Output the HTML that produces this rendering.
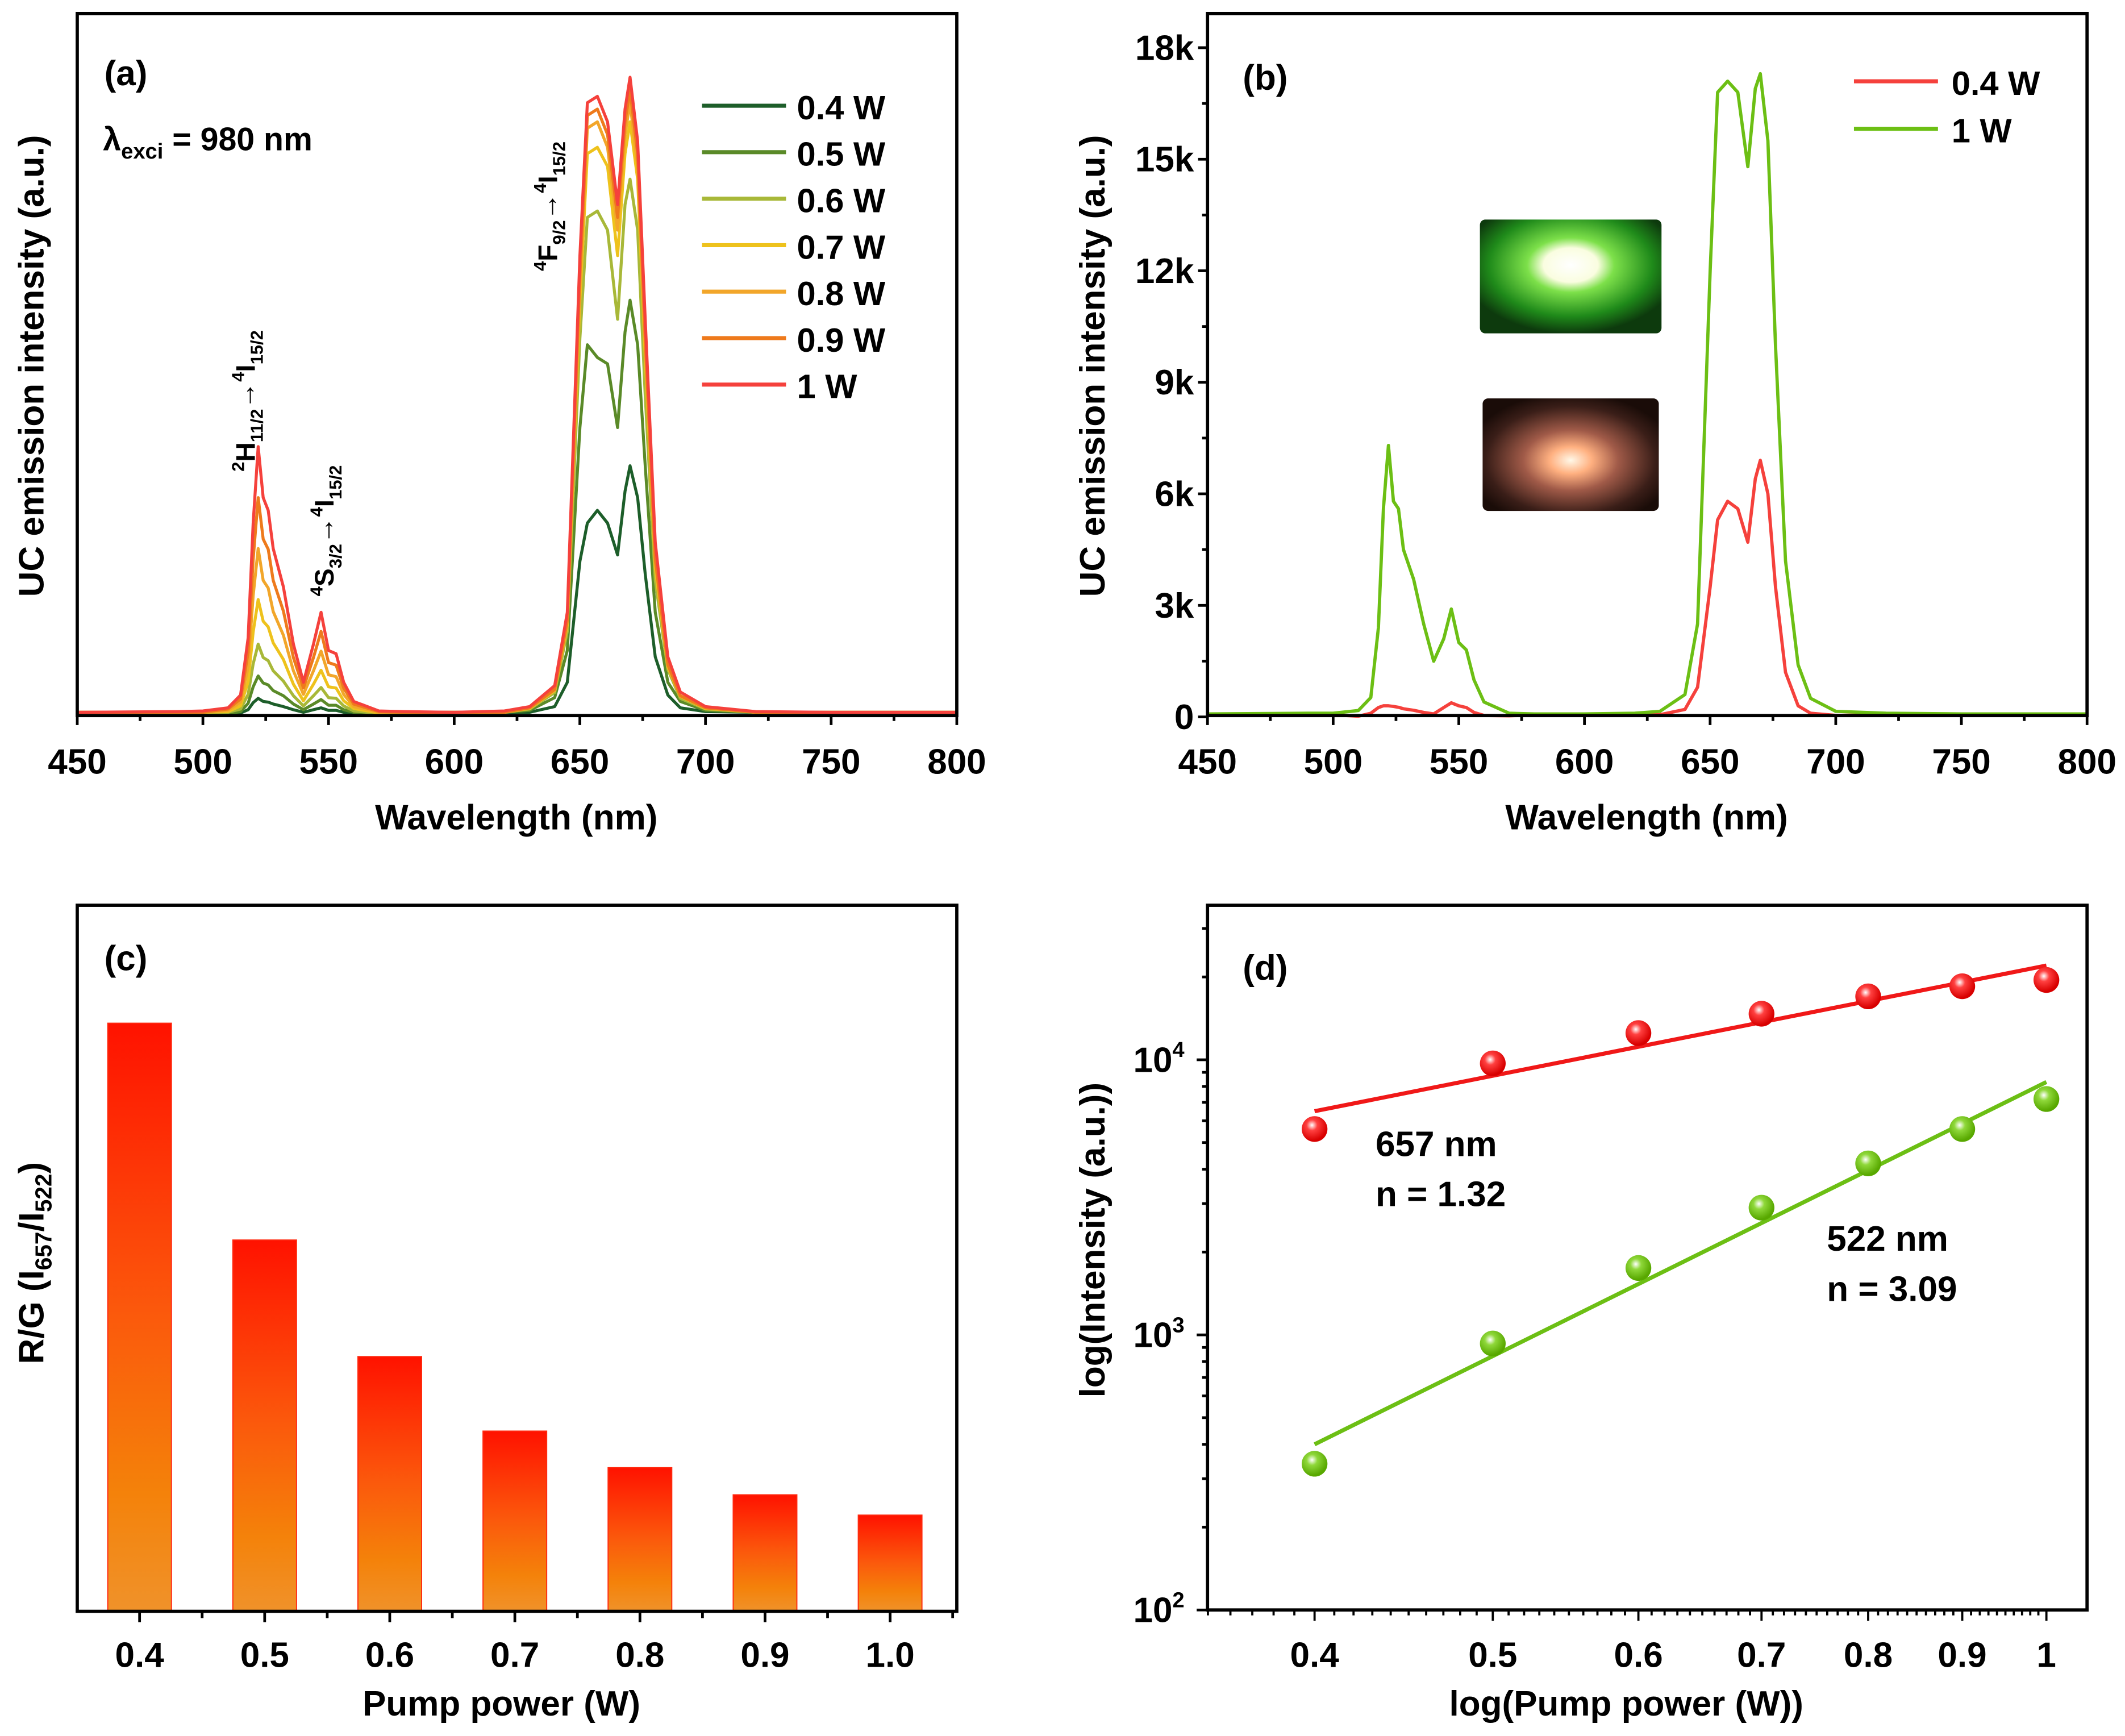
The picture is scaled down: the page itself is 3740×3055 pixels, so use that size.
<!DOCTYPE html>
<html><head><meta charset="utf-8"><style>
html,body{margin:0;padding:0;background:#fff}
svg{display:block}
text{font-family:"Liberation Sans",sans-serif;font-weight:bold;fill:#000}
</style></head><body>
<svg id="fig" xmlns="http://www.w3.org/2000/svg" width="3740" height="3055" viewBox="0 0 1568 1281" preserveAspectRatio="none">
<defs>
<linearGradient id="barGrad" x1="0" y1="0" x2="0" y2="1"><stop offset="0" stop-color="#ff1200"/><stop offset="0.5" stop-color="#fb5a0c"/><stop offset="0.8" stop-color="#f4820a"/><stop offset="1" stop-color="#f0922a"/></linearGradient>
<radialGradient id="gPhoto" cx="0.5" cy="0.4" r="0.6"><stop offset="0" stop-color="#ffffff"/><stop offset="0.25" stop-color="#fafde0"/><stop offset="0.4" stop-color="#7de04a"/><stop offset="0.75" stop-color="#1f8a1a"/><stop offset="1" stop-color="#0d3a0d"/></radialGradient>
<radialGradient id="rPhoto" cx="0.5" cy="0.55" r="0.6"><stop offset="0" stop-color="#fff8e8"/><stop offset="0.2" stop-color="#ffb080"/><stop offset="0.45" stop-color="#a05a48"/><stop offset="0.8" stop-color="#3a1e18"/><stop offset="1" stop-color="#1a0c08"/></radialGradient>
<radialGradient id="ptR" cx="0.4" cy="0.35" r="0.6"><stop offset="0" stop-color="#fff"/><stop offset="0.35" stop-color="#ff4040"/><stop offset="1" stop-color="#d80000"/></radialGradient>
<radialGradient id="ptG" cx="0.4" cy="0.35" r="0.6"><stop offset="0" stop-color="#fff"/><stop offset="0.35" stop-color="#8fd83a"/><stop offset="1" stop-color="#58a800"/></radialGradient>
</defs>
<g id="pa"></g>
<g id="pb"></g>
<g id="pc"></g>
<g id="pd"></g>
</svg>
<script>
// ---------- Data ----------
const wl = [450,490,500,510,515,518,520,522,524,526,528,532,536,540,544,547,550,553,556,560,570,580,600,620,630,640,645,650,653,657,661,665,668,670,673,676,680,685,690,700,720,750,800];
const powersA = ["0.4 W","0.5 W","0.6 W","0.7 W","0.8 W","0.9 W","1 W"];
const colorsA = ["#1d5e2a","#5a8a28","#a8b838","#eec21c","#f2a62a","#ee7a1c","#f5413c"];
const sA04 = [0.3,0.3,0.3,0.1,0.2,0.7,1.8,2.5,2,1.9,1.6,1.2,0.7,0.3,0.7,1,0.6,0.6,0.3,0.1,0,0.3,0.3,0.3,0.3,1.2,5,24,30,32,30,25,35,39,34,22,9,3,1,0.4,0.3,0.3,0.3];
const sA05 = [0.3,0.3,0.3,0.1,0.4,1.7,4.3,6,4.9,4.6,3.7,2.9,1.6,0.7,1.6,2.3,1.4,1.4,0.7,0.3,0.1,0.3,0.3,0.3,0.6,2.6,10,45,58,56,55,45,60,65,58,39,16,5,2,0.6,0.3,0.3,0.3];
const sA06 = [0.3,0.3,0.3,0.3,0.8,3.1,7.9,11,8.9,8.4,6.8,5.2,2.9,1.3,2.9,4.2,2.6,2.5,1.3,0.5,0.1,0.3,0.3,0.3,0.8,3.4,13,59,78,79,76,62,80,84,76,50,21,7,2.5,0.8,0.3,0.3,0.3];
const sA07 = [0.3,0.3,0.3,0.4,1.3,5.1,12.9,18,14.6,13.7,11.2,8.6,4.7,2.1,4.7,6.9,4.3,4.1,2.1,0.9,0.2,0.3,0.3,0.3,0.9,3.7,14,65,88,89,86,72,88,93,84,56,23,7.4,2.8,0.9,0.3,0.3,0.3];
const sA08 = [0.3,0.3,0.3,0.6,1.9,7.4,18.6,26,21,19.8,16.1,12.4,6.8,3.1,6.8,9.9,6.2,5.9,3.1,1.2,0.3,0.3,0.3,0.3,1,3.8,14.4,67,92,93,89,76,91,96,86,58,24,7.7,2.9,1,0.3,0.3,0.3];
const sA09 = [0.3,0.3,0.3,0.8,2.4,9.7,24.3,34,27.5,25.9,21,16.2,8.9,4.1,8.9,13,8.1,7.7,4.1,1.6,0.4,0.3,0.3,0.3,1,3.9,14.7,69,94,95,91,78,93,98,88,59,24.5,7.8,2.9,1,0.3,0.3,0.3];
const sA10 = [0.3,0.4,0.5,1,3,12,30,42,34,32,26,20,11,5,11,16,10,9.5,5,2,0.5,0.4,0.3,0.5,1.2,4.5,16,72,96,97,93,80,95,100,90,62,27,9,3.5,1.2,0.4,0.3,0.3];
const seriesA = [sA04,sA05,sA06,sA07,sA08,sA09,sA10];

const powersB = ["0.4 W","1 W"];
const colorsB = ["#f5413c","#6cbf14"];
const sB04 = [60,60,60,20,100,250,300,300,280,260,220,180,120,80,250,380,300,250,120,40,30,60,60,60,60,200,800,3500,5300,5800,5600,4700,6400,6900,6000,3500,1200,300,100,40,60,60,60];
const sB10 = [80,100,100,170,520,2400,5600,7300,5800,5600,4500,3700,2500,1500,2100,2900,2000,1800,1000,400,100,80,80,100,150,600,2500,12000,16800,17100,16800,14800,16900,17300,15500,10000,4200,1400,500,150,100,80,80];
const seriesB = [sB04,sB10];
const ticksB = [0,3000,6000,9000,12000,15000,18000];
const tickLabelsB = ["0","3k","6k","9k","12k","15k","18k"];
const xTicks = [450,500,550,600,650,700,750,800];

const catsC = ["0.4","0.5","0.6","0.7","0.8","0.9","1.0"];
const ratiosC = [4.34,2.74,1.88,1.33,1.06,0.86,0.71];

const powersD = [0.4,0.5,0.6,0.7,0.8,0.9,1];
const red657 = [5600,9700,12500,14700,17000,18500,19500];
const green522 = [340,930,1750,2900,4200,5600,7200];
const fitRed = [6500,22000];
const fitGreen = [400,8300];
const fitPowers = [0.4,1];
const xLabelsD = ["0.4","0.5","0.6","0.7","0.8","0.9","1"];

// ---------- helpers ----------
const NS="http://www.w3.org/2000/svg";
const FS=26;
function mk(parent,tag,attrs,txt){const e=document.createElementNS(NS,tag);for(const k in attrs)e.setAttribute(k,attrs[k]);if(txt!==undefined)e.textContent=txt;parent.appendChild(e);return e;}
function frame(g,x0,y0,x1,y1){const r=mk(g,'rect',{x:x0,y:y0,width:x1-x0,height:y1-y0,fill:'none',stroke:'#000','stroke-width':2.4});

}

// ---------- Panel A ----------
(function(){
const g=document.getElementById('pa');
const X0=57,X1=706,Y0=10,Y1=528;
const xs=v=>X0+(v-450)/(800-450)*(X1-X0);
const ys=v=>527-v*4.7;
seriesA.forEach((s,i)=>{
 const pts=s.map((v,j)=>xs(wl[j]).toFixed(1)+','+ys(v).toFixed(1)).join(' ');
 const p=mk(g,'polyline',{points:pts,fill:'none',stroke:colorsA[i],'stroke-width':2.2,'stroke-linejoin':'round'});
 
 
});
frame(g,X0,Y0,X1,Y1);
for(let v=450;v<=800;v+=25){const major=v%50===0;mk(g,'line',{x1:xs(v),x2:xs(v),y1:Y1,y2:Y1+(major?7:4),stroke:'#000','stroke-width':2});}
xTicks.forEach(v=>{const t=mk(g,'text',{x:xs(v),y:571,'text-anchor':'middle','font-size':FS},String(v));
 
 });
let t=mk(g,'text',{x:381,y:612,'text-anchor':'middle','font-size':FS},'Wavelength (nm)');

t=mk(g,'text',{x:0,y:0,'text-anchor':'middle','font-size':FS,transform:'translate(32,270) rotate(-90)'},'UC emission intensity (a.u.)');

t=mk(g,'text',{x:77,y:63,'font-size':FS},'(a)');

t=mk(g,'text',{x:76,y:111,'font-size':24});t.innerHTML='λ<tspan font-size="16" dy="6">exci</tspan><tspan dy="-6"> = 980 nm</tspan>';

powersA.forEach((p,i)=>{const y=78+i*34.3;
 const l=mk(g,'line',{x1:518,x2:580,y1:y,y2:y,stroke:colorsA[i],'stroke-width':3});
 
 const tt=mk(g,'text',{x:588,y:y+10,'font-size':25},p);
 });
t=mk(g,'text',{x:0,y:0,'font-size':20,transform:'translate(188,348) rotate(-90)'});
t.innerHTML='<tspan font-size="13" dy="-8">2</tspan><tspan dy="8">H</tspan><tspan font-size="13" dy="6">11/2</tspan><tspan dy="-6">→</tspan><tspan font-size="13" dy="-8">4</tspan><tspan dy="8">I</tspan><tspan font-size="13" dy="6">15/2</tspan>';

t=mk(g,'text',{x:0,y:0,'font-size':20,transform:'translate(246,440) rotate(-90)'});
t.innerHTML='<tspan font-size="13" dy="-8">4</tspan><tspan dy="8">S</tspan><tspan font-size="13" dy="6">3/2</tspan><tspan dy="-6">→</tspan><tspan font-size="13" dy="-8">4</tspan><tspan dy="8">I</tspan><tspan font-size="13" dy="6">15/2</tspan>';

t=mk(g,'text',{x:0,y:0,'font-size':20,transform:'translate(411,200) rotate(-90)'});
t.innerHTML='<tspan font-size="13" dy="-8">4</tspan><tspan dy="8">F</tspan><tspan font-size="13" dy="6">9/2</tspan><tspan dy="-6">→</tspan><tspan font-size="13" dy="-8">4</tspan><tspan dy="8">I</tspan><tspan font-size="13" dy="6">15/2</tspan>';

})();

// ---------- Panel B ----------
(function(){
const g=document.getElementById('pb');
const X0=891,X1=1540,Y0=10,Y1=528;
const xs=v=>X0+(v-450)/(800-450)*(X1-X0);
const ys=v=>529-v/3000*82.3;
const ph1=mk(g,'rect',{x:1092,y:162,width:134,height:84,fill:'url(#gPhoto)',rx:4});

const ph2=mk(g,'rect',{x:1094,y:294,width:130,height:83,fill:'url(#rPhoto)',rx:4});

seriesB.forEach((s,i)=>{
 const pts=s.map((v,j)=>xs(wl[j]).toFixed(1)+','+ys(v).toFixed(1)).join(' ');
 const p=mk(g,'polyline',{points:pts,fill:'none',stroke:colorsB[i],'stroke-width':2.4,'stroke-linejoin':'round'});
 
 
});
frame(g,X0,Y0,X1,Y1);
for(let v=450;v<=800;v+=25){const major=v%50===0;mk(g,'line',{x1:xs(v),x2:xs(v),y1:Y1,y2:Y1+(major?7:4),stroke:'#000','stroke-width':2});}
for(let v=0;v<=19500;v+=1500){const major=v%3000===0;mk(g,'line',{x1:X0,x2:X0-(major?7:4),y1:ys(v),y2:ys(v),stroke:'#000','stroke-width':2});}
xTicks.forEach(v=>{const t=mk(g,'text',{x:xs(v),y:571,'text-anchor':'middle','font-size':FS},String(v));
 });
ticksB.forEach((v,i)=>{const t=mk(g,'text',{x:X0-10,y:ys(v)+9,'text-anchor':'end','font-size':FS},tickLabelsB[i]);
 });
let t=mk(g,'text',{x:1215,y:612,'text-anchor':'middle','font-size':FS},'Wavelength (nm)');

t=mk(g,'text',{x:0,y:0,'text-anchor':'middle','font-size':FS,transform:'translate(815,270) rotate(-90)'},'UC emission intensity (a.u.)');

t=mk(g,'text',{x:917,y:66,'font-size':FS},'(b)');

powersB.forEach((p,i)=>{const y=60+i*35;
 const l=mk(g,'line',{x1:1368,x2:1430,y1:y,y2:y,stroke:colorsB[i],'stroke-width':3});
 
 const tt=mk(g,'text',{x:1440,y:y+10,'font-size':25},p);
 });
})();

// ---------- Panel C ----------
(function(){
const g=document.getElementById('pc');
const X0=57,X1=706,Y0=668,Y1=1189;
const xs=i=>103+i*92.3;
const ys=v=>Y1-v*100;
ratiosC.forEach((v,i)=>{
 const b=mk(g,'rect',{x:xs(i)-23.5,y:ys(v),width:47,height:Y1-ys(v),fill:'url(#barGrad)',stroke:'#ff2a10','stroke-width':0.8});
 
 
});
frame(g,X0,Y0,X1,Y1);
catsC.forEach((c,i)=>{mk(g,'line',{x1:xs(i),x2:xs(i),y1:Y1,y2:Y1+8,stroke:'#000','stroke-width':2});
 mk(g,'line',{x1:xs(i)+46.15,x2:xs(i)+46.15,y1:Y1,y2:Y1+5,stroke:'#000','stroke-width':2});
 const t=mk(g,'text',{x:xs(i),y:1230,'text-anchor':'middle','font-size':FS},c);
 });
let t=mk(g,'text',{x:370,y:1266,'text-anchor':'middle','font-size':FS},'Pump power (W)');

t=mk(g,'text',{x:0,y:0,'text-anchor':'middle','font-size':FS,transform:'translate(32,932) rotate(-90)'});
t.innerHTML='R/G (I<tspan font-size="17" dy="6">657</tspan><tspan dy="-6">/I</tspan><tspan font-size="17" dy="6">522</tspan><tspan dy="-6">)</tspan>';

t=mk(g,'text',{x:77,y:716,'font-size':FS},'(c)');

})();

// ---------- Panel D ----------
(function(){
const g=document.getElementById('pd');
const X0=891,X1=1540,Y0=668,Y1=1188;
const xs=p=>1510+Math.log10(p)*1357;
const ys=v=>Y1-(Math.log10(v)-2)*203;
const fr=fitPowers.map((p,i)=>xs(p)+','+ys(fitRed[i])).join(' ');
let l=mk(g,'polyline',{points:fr,fill:'none',stroke:'#f01818','stroke-width':3});

const fg=fitPowers.map((p,i)=>xs(p)+','+ys(fitGreen[i])).join(' ');
l=mk(g,'polyline',{points:fg,fill:'none',stroke:'#6cbf14','stroke-width':3});

powersD.forEach((p,i)=>{
 const c=mk(g,'circle',{cx:xs(p),cy:ys(red657[i]),r:9.5,fill:'url(#ptR)'});
 
 const c2=mk(g,'circle',{cx:xs(p),cy:ys(green522[i]),r:9.5,fill:'url(#ptG)'});
 
});
frame(g,X0,Y0,X1,Y1);
for(let d=2;d<=4;d++){for(let m=1;m<=9;m++){const v=m*Math.pow(10,d);const y=ys(v);if(y<Y0)continue;
 mk(g,'line',{x1:X0,x2:X0-(m===1?8:4),y1:y,y2:y,stroke:'#000','stroke-width':2});}}
for(let p=0.35;p<=1.0001;p+=0.01){const r=Math.round(p*100);const major=r%10===0;const x=xs(r/100);if(x<X0)continue;
 mk(g,'line',{x1:x,x2:x,y1:Y1,y2:Y1+(major?8:4),stroke:'#000','stroke-width':1.6});}
powersD.forEach((p,i)=>{const t=mk(g,'text',{x:xs(p),y:1230,'text-anchor':'middle','font-size':FS},xLabelsD[i]);
 });
[2,3,4].forEach(d=>{const t=mk(g,'text',{x:874,y:ys(Math.pow(10,d))+9,'text-anchor':'end','font-size':FS});
 t.innerHTML='10<tspan font-size="16" dy="-11">'+d+'</tspan>';
 });
let t=mk(g,'text',{x:1200,y:1266,'text-anchor':'middle','font-size':FS},'log(Pump power (W))');

t=mk(g,'text',{x:0,y:0,'text-anchor':'middle','font-size':FS,transform:'translate(815,915) rotate(-90)'},'log(Intensity (a.u.))');

t=mk(g,'text',{x:917,y:723,'font-size':FS},'(d)');

[['657 nm',1015,853],['n = 1.32',1015,890],['522 nm',1348,923],['n = 3.09',1348,960]].forEach(a=>{
 const tt=mk(g,'text',{x:a[1],y:a[2],'font-size':FS},a[0]);
 });
})();
</script>
</body></html>
